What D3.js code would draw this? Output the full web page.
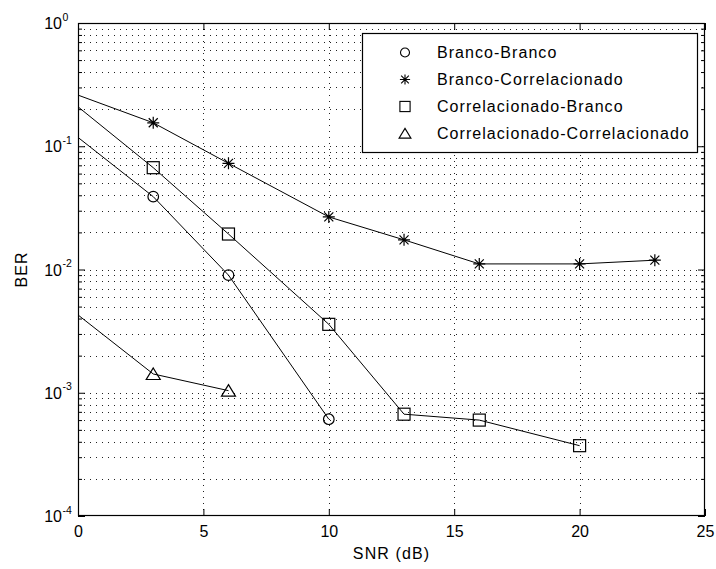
<!DOCTYPE html>
<html>
<head>
<meta charset="utf-8">
<script src="https://cdnjs.cloudflare.com/ajax/libs/d3/7.8.5/d3.min.js"></script>
<style>
  body { margin: 0; background: #fff; }
  text { font-family: "Liberation Sans", Arial, sans-serif; fill: #000; }
</style>
</head>
<body>
<svg id="chart" width="716" height="569"></svg>
<script>
// values
var snrBB = [0, 3, 6, 10];
var berBB = [0.118, 0.039, 0.009, 0.00061];

var snrBC = [0, 3, 6, 10, 13, 16, 20, 23];
var berBC = [0.26, 0.155, 0.0727, 0.0267, 0.0174, 0.0111, 0.0111, 0.0119];

var snrCB = [0, 3, 6, 10, 13, 16, 20];
var berCB = [0.209, 0.067, 0.0194, 0.00359, 0.00067, 0.0006, 0.000372];

var snrCC = [0, 3, 6];
var berCC = [0.00428, 0.00142, 0.00104];

var seriesNames = ['Branco-Branco', 'Branco-Correlacionado', 'Correlacionado-Branco', 'Correlacionado-Correlacionado'];
var seriesMarkers = ['circle', 'star', 'square', 'triangle'];
var xTicks = [0, 5, 10, 15, 20, 25];
var yDecades = [-4, -3, -2, -1, 0];

var svg = d3.select('#chart');

var plot = {l: 78, r: 705, t: 23, b: 516};

var xScale = d3.scaleLinear().domain([0, 25]).range([plot.l, plot.r]);
var yScale = d3.scaleLog().domain([1e-4, 1]).range([plot.b, plot.t]);

// minor/major y values
var yMajor = yDecades.map(function(e) { return Math.pow(10, e); });
var yMinor = [];
yDecades.slice(0, -1).forEach(function(e) {
    for (var m = 2; m <= 9; m++) yMinor.push(m * Math.pow(10, e));
});

// grid
var gridG = svg.append('g')
    .attr('stroke', '#222')
    .attr('stroke-width', 1)
    .attr('stroke-dasharray', '1,5')
    .attr('shape-rendering', 'crispEdges');

gridG.selectAll('.vgrid').data(xTicks.slice(1, -1))
    .enter().append('line')
    .attr('x1', function(d) { return Math.round(xScale(d)) + 0.5; })
    .attr('x2', function(d) { return Math.round(xScale(d)) + 0.5; })
    .attr('y1', plot.t)
    .attr('y2', plot.b);

gridG.selectAll('.hgrid').data(yMinor.concat(yMajor.slice(1, -1)))
    .enter().append('line')
    .attr('x1', plot.l)
    .attr('x2', plot.r)
    .attr('y1', function(d) { return Math.round(yScale(d)) + 0.5; })
    .attr('y2', function(d) { return Math.round(yScale(d)) + 0.5; });

// axes ticks (inside)
function tickAxis(axis, transform) {
    var g = svg.append('g').attr('transform', transform).call(axis);
    g.select('.domain').remove();
    g.selectAll('line').attr('stroke', '#000');
    return g;
}

var xBottom = tickAxis(d3.axisBottom(xScale).tickValues(xTicks).tickSize(-7).tickPadding(10), 'translate(0,' + plot.b + ')');
xBottom.selectAll('text')
    .style('font-family', '"Liberation Sans", Arial, sans-serif')
    .style('font-size', '16px');
tickAxis(d3.axisTop(xScale).tickValues(xTicks).tickSize(-7).tickFormat(''), 'translate(0,' + plot.t + ')');

tickAxis(d3.axisLeft(yScale).tickValues(yMajor).tickSize(-7).tickFormat(''), 'translate(' + plot.l + ',0)');
tickAxis(d3.axisLeft(yScale).tickValues(yMinor).tickSize(-4).tickFormat(''), 'translate(' + plot.l + ',0)');
tickAxis(d3.axisRight(yScale).tickValues(yMajor).tickSize(-7).tickFormat(''), 'translate(' + plot.r + ',0)');
tickAxis(d3.axisRight(yScale).tickValues(yMinor).tickSize(-4).tickFormat(''), 'translate(' + plot.r + ',0)');

// y tick labels 10^e
var yLab = svg.append('g').selectAll('g').data(yDecades).enter().append('g')
    .attr('transform', function(e) { return 'translate(62,' + yScale(Math.pow(10, e)) + ')'; });
yLab.append('text')
    .attr('text-anchor', 'end')
    .attr('y', 6)
    .style('font-size', '16px')
    .text('10');
yLab.append('text')
    .attr('x', 0.5)
    .attr('y', -2.5)
    .style('font-size', '10.5px')
    .text(function(e) { return e; });

// frame
svg.append('rect')
    .attr('x', plot.l + 0.5).attr('y', plot.t + 0.5)
    .attr('width', plot.r - plot.l - 1).attr('height', plot.b - plot.t - 1)
    .attr('fill', 'none').attr('stroke', '#000').attr('stroke-width', 1.2);

// axis titles
svg.append('text')
    .attr('x', (plot.l + plot.r) / 2)
    .attr('y', 559)
    .attr('text-anchor', 'middle')
    .style('font-size', '16px')
    .style('letter-spacing', '1.1px')
    .text('SNR (dB)');

svg.append('text')
    .attr('transform', 'translate(27,' + (plot.t + plot.b) / 2 + ') rotate(-90)')
    .attr('text-anchor', 'middle')
    .style('font-size', '16px')
    .style('letter-spacing', '1.1px')
    .text('BER');

// markers
function drawMarker(g, type) {
    if (type === 'circle') {
        g.append('circle').attr('r', 5.3);
    } else if (type === 'square') {
        g.append('rect').attr('x', -6).attr('y', -6).attr('width', 12).attr('height', 12);
    } else if (type === 'triangle') {
        g.append('path').attr('d', 'M0,-6L7,5.5L-7,5.5Z');
    } else {
        g.append('path').attr('d', 'M-6,0L6,0M0,-6L0,6M-4.5,-4.5L4.5,4.5M-4.5,4.5L4.5,-4.5');
    }
}

var series = [
    {x: snrBB, y: berBB},
    {x: snrBC, y: berBC},
    {x: snrCB, y: berCB},
    {x: snrCC, y: berCC}
];

var line = d3.line()
    .x(function(d) { return xScale(d[0]); })
    .y(function(d) { return yScale(d[1]); });

series.forEach(function(s, i) {
    var pts = s.x.map(function(v, j) { return [v, s.y[j]]; });
    svg.append('path')
        .datum(pts)
        .attr('d', line)
        .attr('fill', 'none')
        .attr('stroke', '#000')
        .attr('stroke-width', 1);

    svg.append('g').selectAll('g').data(pts.slice(1)).enter().append('g')
        .attr('transform', function(d) { return 'translate(' + xScale(d[0]) + ',' + yScale(d[1]) + ')'; })
        .attr('fill', 'none').attr('stroke', '#000').attr('stroke-width', 1.2)
        .each(function() { drawMarker(d3.select(this), seriesMarkers[i]); });
});

// legend
var legend = svg.append('g');
legend.append('rect')
    .attr('x', 362.5).attr('y', 33.5).attr('width', 335).attr('height', 119)
    .attr('fill', '#fff').attr('stroke', '#000').attr('stroke-width', 1.2);

var rows = legend.selectAll('.row').data(seriesNames).enter().append('g')
    .attr('transform', function(d, i) { return 'translate(0,' + (52.5 + i * 27) + ')'; });
rows.append('g')
    .attr('transform', 'translate(405,0) scale(0.85)')
    .attr('fill', 'none').attr('stroke', '#000').attr('stroke-width', 1.3)
    .each(function(d, i) { drawMarker(d3.select(this), seriesMarkers[i]); });
rows.append('text')
    .attr('x', 437)
    .attr('y', 5.5)
    .style('font-size', '16px')
    .style('letter-spacing', '1.05px')
    .text(function(d) { return d; });
</script>
</body>
</html>
